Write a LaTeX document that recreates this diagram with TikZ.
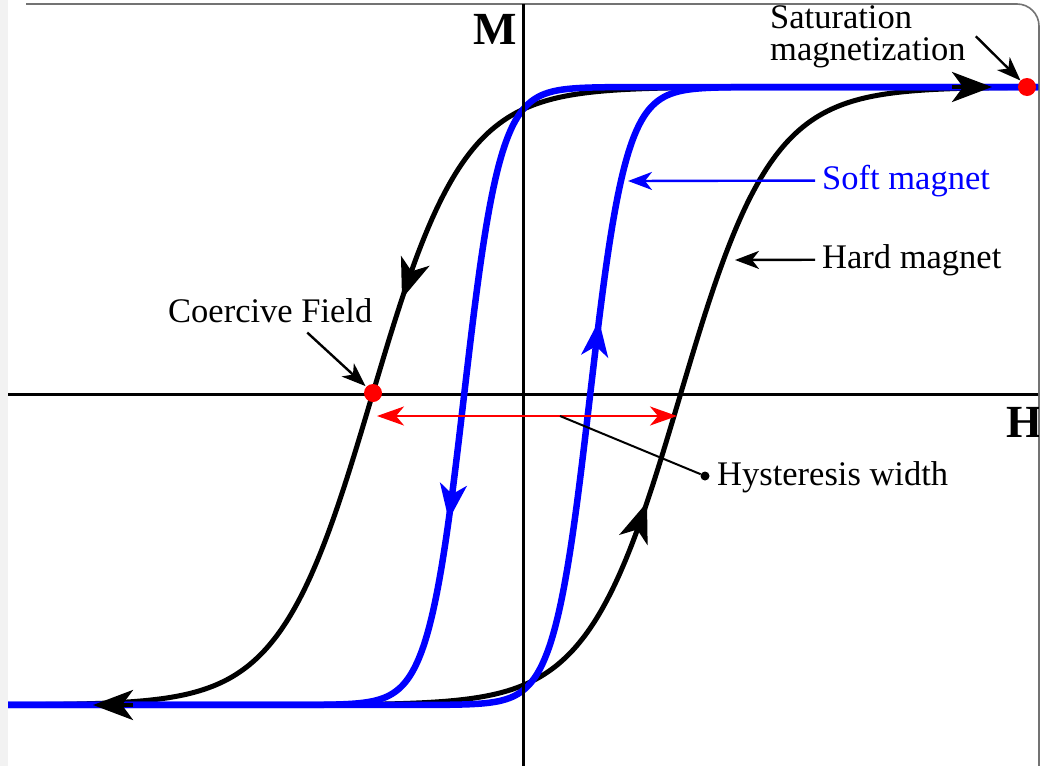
\documentclass[tikz,border=0pt]{standalone}
\usepackage{fontspec}
\setmainfont{Liberation Serif}
\usetikzlibrary{arrows.meta}

\begin{document}
\begin{tikzpicture}[x=1pt, y=-1pt,
	declare function={
		sat(\u)=tanh(max(-4,min(4,\u)));
		hardtop(\h)=396-309*sat((\h-372)/92);
		hardbot(\h)=396-309*sat((\h-680)/92);
		softtop(\h)=396-309*sat((\h-464)/36);
		softbot(\h)=396-309*sat((\h-590)/36);
	},
	axis/.style={draw=black, line width=3pt},
	hard/.style={draw=black, line width=5pt},
	soft/.style={draw=blue, line width=6.5pt},
	hardtip/.style={draw=black, line width=4pt, -{Stealth[length=40pt, width=30pt, inset=11pt]}},
	softtip/.style={draw=blue, line width=4pt, -{Stealth[length=36pt, width=27pt, inset=10pt]}},
	pointer/.style={draw, line width=2.4pt, -{Stealth[length=24pt, width=18pt, inset=7pt]}},
	label/.style={inner sep=0pt, font=\fontsize{34.5}{32}\selectfont},
	axislabel/.style={inner sep=0pt, font=\fontsize{46}{46}\selectfont\bfseries},
	dot/.style={circle, fill=red, inner sep=0pt, minimum size=18pt}]
	\useasboundingbox (0,0) rectangle (1042,766);
	% card
	\fill[black!5] (0,0) rectangle (8,766);
	\fill[white, rounded corners=22pt] (8,4) rectangle (1039,800);
	\draw[black!55, line width=1.6pt, rounded corners=22pt] (26,4) -- (1039,4) -- (1039,800);
	
	\begin{scope}
		\clip (8,4.8) rectangle (1038.2,766);
		\draw[axis] (8,394) -- (1039,394);
		
		% hard magnet loop
		\draw[hard] plot[domain=8:1039, samples=220, smooth] (\x,{hardtop(\x)});
		\draw[hard] plot[domain=8:1039, samples=220, smooth] (\x,{hardbot(\x)});
		% soft magnet loop
		\draw[soft] plot[domain=8:1039, samples=320, smooth] (\x,{softtop(\x)});
		\draw[soft] plot[domain=8:1039, samples=320, smooth] (\x,{softbot(\x)});
		
		\draw[axis] (523,0) -- (523,766);
		
		% direction marks
		\draw[hardtip] (417,{hardtop(417)}) -- (402,{hardtop(402)});
		\draw[hardtip] (631,{hardbot(631)}) -- (647,{hardbot(647)});
		\draw[hardtip] (952,87) -- (992,87);
		\draw[hardtip] (133,705) -- (93,705);
		\draw[softtip] (453.5,{softtop(453.5)}) -- (448.7,{softtop(448.7)});
		\draw[softtip] (594.5,{softbot(594.5)}) -- (599,{softbot(599)});
		
		\node[axislabel, anchor=base west] (Mlabel) at (473,44) {M};
		\node[axislabel, anchor=base west] (Hlabel) at (1006,437) {H};
	\end{scope}
	
	% labels
	\node[label, anchor=base west, align=left] (satlabel) at (770,60) {Saturation\\magnetization};
	\node[dot] (sdot) at (1027,87) {};
	\draw[pointer] ([xshift=10pt]satlabel.east) -- (sdot);
	
	\node[label, anchor=base west, text=blue] (softlabel) at (822,189) {Soft magnet};
	\coordinate (softend) at (628,181);
	\draw[pointer, draw=blue] ([xshift=-7pt]softlabel.west) -- (softend);
	
	\node[label, anchor=base west] (hardlabel) at (822,268) {Hard magnet};
	\coordinate (hardend) at (735,260);
	\draw[pointer] ([xshift=-7pt]hardlabel.west) -- (hardend);
	
	\node[label, anchor=base west] (coer) at (168,322) {Coercive Field};
	\node[dot] (cdot) at (373,393) {};
	\draw[pointer, shorten >=1pt] ([shift={(37pt,-10pt)}]coer.south) -- (cdot);
	
	\coordinate (wl) at (377,416);
	\coordinate (wr) at (677,416);
	\draw[draw=red, line width=2.6pt, {Stealth[length=27pt, width=19pt, inset=8pt]}-{Stealth[length=27pt, width=19pt, inset=8pt]}] (wl) -- (wr);
	
	\coordinate (hw) at (560,416);
	\node[circle, fill=black, inner sep=0pt, minimum size=9pt] (hdot) at (705,476) {};
	\node[label, anchor=base west] (hwlabel) at (717,485) {Hysteresis width};
	\draw[line width=2pt] (hw) -- (hdot);
\end{tikzpicture}
\end{document}
